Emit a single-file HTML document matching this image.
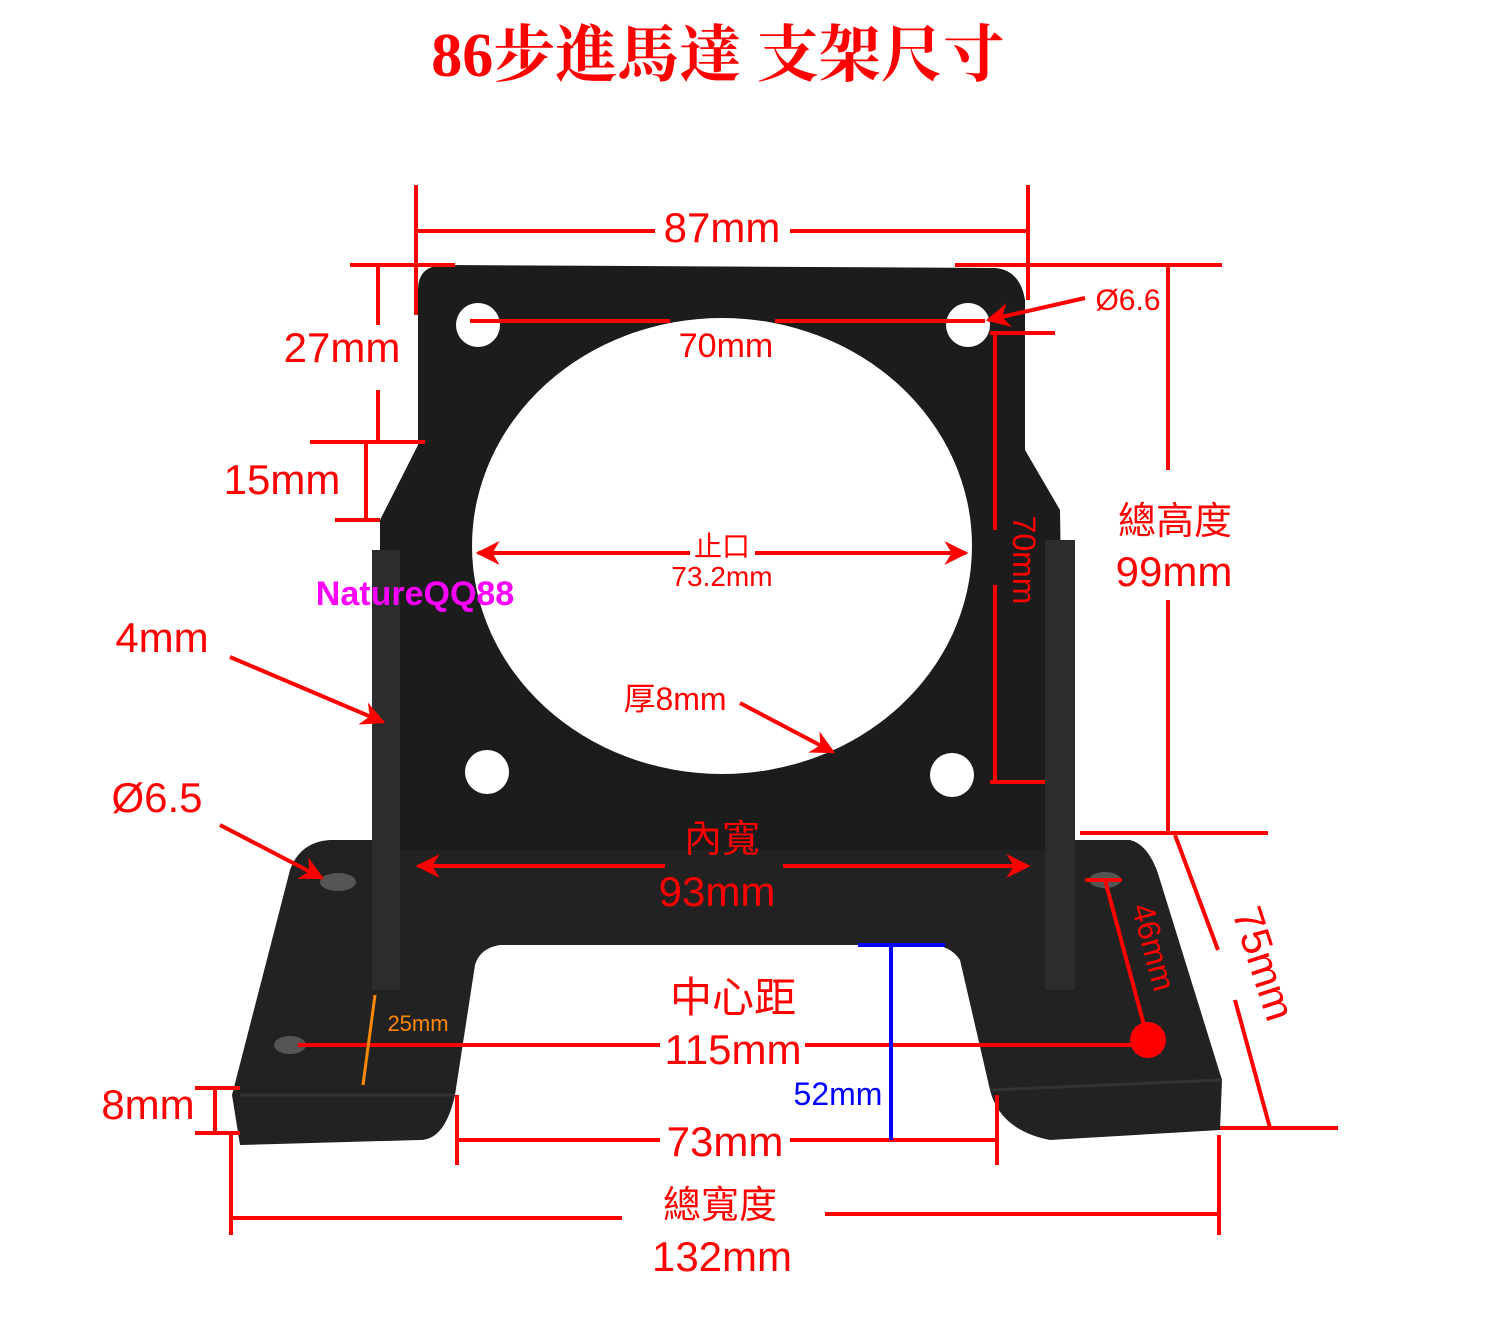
<!DOCTYPE html>
<html><head><meta charset="utf-8"><style>
html,body{margin:0;padding:0;background:#fff}
svg{display:block}
text{font-family:"Liberation Sans","Noto Sans CJK TC",sans-serif;fill:#f00;text-anchor:middle}
</style></head><body>
<svg width="1500" height="1320" viewBox="0 0 1500 1320" xmlns="http://www.w3.org/2000/svg">
<defs>
<marker id="a" viewBox="0 0 10 10" refX="9" refY="5" markerWidth="10" markerHeight="6" orient="auto-start-reverse" markerUnits="strokeWidth"><path d="M0,0 L10,5 L0,10 L3,5 Z" fill="#f00"/></marker>
</defs>
<text x="718" y="76" style="font-family:'Liberation Serif','Noto Serif CJK SC',serif;font-weight:bold;font-size:62px">86步進馬達 支架尺寸</text>

<path d="M330,840 L1130,840 Q1150,845 1160,880 L1222,1080 L1220,1130 L1050,1140 Q1000,1130 990,1090 L960,960 Q950,945 930,945 L500,945 Q480,948 475,965 L455,1095 Q445,1140 420,1140 L240,1145 L232,1095 L290,870 Q300,842 330,840 Z" fill="#222"/>
<path d="M240,1095 L455,1095 M990,1090 L1222,1080" stroke="#333" stroke-width="3"/>
<path d="M418,290 Q418,265 445,265 L995,268 Q1020,270 1025,300 L1025,450 L1060,510 L1065,850 L380,850 L380,520 L418,445 Z" fill="#1c1c1c"/>
<rect x="372" y="550" width="28" height="440" fill="#2c2c2c"/>
<rect x="1045" y="540" width="30" height="450" fill="#2c2c2c"/>
<ellipse cx="722" cy="546" rx="250" ry="228" fill="#fff"/>
<circle cx="478" cy="325" r="22" fill="#fff"/>
<circle cx="968" cy="325" r="22" fill="#fff"/>
<circle cx="487" cy="772" r="22" fill="#fff"/>
<circle cx="952" cy="775" r="22" fill="#fff"/>
<ellipse cx="338" cy="882" rx="18" ry="9" fill="#555"/>
<ellipse cx="290" cy="1045" rx="16" ry="9" fill="#555"/>
<ellipse cx="1105" cy="880" rx="16" ry="8" fill="#555"/>

<g stroke="#f00" stroke-width="4" fill="none">
<path d="M416,185V315 M1028,185V300 M416,231H655 M790,231H1028"/>
<path d="M350,265H455 M378,265V325 M378,390V440 M310,442H425 M366,442V520 M335,520H380"/>
<path d="M470,321H670 M775,321H985"/>
<path d="M1085,298L988,320" marker-end="url(#a)"/>
<path d="M955,265H1222 M1168,265V470 M1168,600V835 M1080,833H1268"/>
<path d="M995,335V530 M995,585V782 M990,333H1055 M990,782H1045"/>
<path d="M690,553H478" marker-end="url(#a)"/>
<path d="M755,553H966" marker-end="url(#a)"/>
<path d="M230,657L383,722" marker-end="url(#a)"/>
<path d="M740,703L833,752" marker-end="url(#a)"/>
<path d="M220,825L322,878" marker-end="url(#a)"/>
<path d="M665,866H418" marker-end="url(#a)"/>
<path d="M783,866H1028" marker-end="url(#a)"/>
<path d="M1085,880H1122 M1105,880L1148,1040"/>
<path d="M1175,835L1218,950 M1235,1000L1270,1128 M1220,1128H1338"/>
<path d="M298,1045H660 M805,1045H1148"/>
<path d="M195,1088H240 M195,1133H240 M215,1088V1133"/>
<path d="M457,1095V1165 M997,1095V1165 M457,1140H660 M790,1140H997"/>
<path d="M231,1135V1235 M1219,1135V1235 M231,1218H622 M825,1214H1219"/>
</g>
<circle cx="1148" cy="1040" r="18" fill="#f00"/>
<path d="M858,945H945 M891,945V1140" stroke="#00f" stroke-width="4"/>
<path d="M375,995L363,1085" stroke="#f80" stroke-width="3"/>

<g font-size="42">
<text x="722" y="242">87mm</text>
<text x="342" y="362">27mm</text>
<text x="282" y="494">15mm</text>
<text x="162" y="652">4mm</text>
<text x="157" y="812">Ø6.5</text>
<text x="717" y="906">93mm</text>
<text x="733" y="1012">中心距</text>
<text x="733" y="1064">115mm</text>
<text x="148" y="1119">8mm</text>
<text x="725" y="1156">73mm</text>
<text x="722" y="1271">132mm</text>
<text x="1174" y="586">99mm</text>
</g>
<text x="726" y="357" font-size="34">70mm</text>
<text x="1128" y="310" font-size="30">Ø6.6</text>
<text x="1175" y="534" font-size="38">總高度</text>
<text x="722" y="556" font-size="28">止口</text>
<text x="722" y="586" font-size="28">73.2mm</text>
<text x="722" y="852" font-size="38">內寬</text>
<text x="675" y="710" font-size="32">厚8mm</text>
<text x="720" y="1218" font-size="38">總寬度</text>
<text x="415" y="605" font-size="34" font-weight="bold" style="fill:#f0f">NatureQQ88</text>
<text x="838" y="1105" font-size="32" style="fill:#00f">52mm</text>
<text x="418" y="1031" font-size="22" style="fill:#f80">25mm</text>
<text transform="translate(1013,560) rotate(90)" font-size="32">70mm</text>
<text transform="translate(1143,950) rotate(75)" font-size="32">46mm</text>
<text transform="translate(1250,968) rotate(72)" font-size="42">75mm</text>
</svg>
</body></html>
